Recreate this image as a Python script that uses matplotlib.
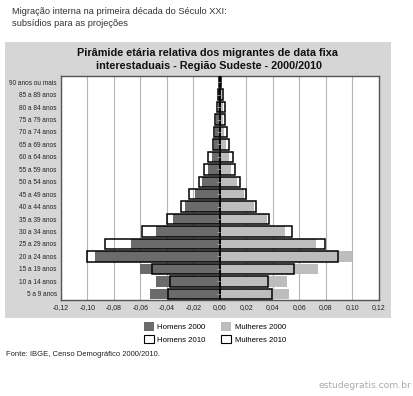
import matplotlib
matplotlib.use("Agg")
import matplotlib.pyplot as plt
from matplotlib.patches import Patch, Rectangle
import numpy as np

plt.rcParams['font.family'] = ['Liberation Sans', 'DejaVu Sans']

categories = ["5 a 9 anos", "10 a 14 anos", "15 a 19 anos", "20 a 24 anos",
              "25 a 29 anos", "30 a 34 anos", "35 a 39 anos", "40 a 44 anos",
              "45 a 49 anos", "50 a 54 anos", "55 a 59 anos", "60 a 64 anos",
              "65 a 69 anos", "70 a 74 anos", "75 a 79 anos", "80 a 84 anos",
              "85 a 89 anos", "90 anos ou mais"]
homens_2000 = [0.053, 0.048, 0.0605, 0.094, 0.0674, 0.0485, 0.0356, 0.0267, 0.0192,
               0.0134, 0.009, 0.0063, 0.0048, 0.004, 0.003, 0.0018, 0.0012, 0.0004]
homens_2010 = [0.039, 0.038, 0.0515, 0.1005, 0.087, 0.0588, 0.0399, 0.0293, 0.0232,
               0.0159, 0.0121, 0.009, 0.0053, 0.0045, 0.0035, 0.002, 0.0015, 0.0005]
mulheres_2000 = [0.0522, 0.0507, 0.0742, 0.0999, 0.0727, 0.0492, 0.0356, 0.0257, 0.0182,
                 0.0126, 0.0081, 0.0068, 0.0045, 0.0033, 0.0023, 0.0025, 0.0015, 0.0006]
mulheres_2010 = [0.0391, 0.0366, 0.0558, 0.089, 0.079, 0.0547, 0.0373, 0.0275, 0.0199,
                 0.0149, 0.0111, 0.0096, 0.0066, 0.005, 0.0035, 0.0035, 0.002, 0.001]
xticks = [-0.12, -0.10, -0.08, -0.06, -0.04, -0.02, 0.0, 0.02, 0.04, 0.06, 0.08, 0.10, 0.12]

DARK = '#6b6b6b'
LIGHT = '#bdbdbd'

fig = plt.figure(figsize=(4.14, 3.96), dpi=100)
fig.patch.set_facecolor('white')

# gray panel behind chart
fig.patches.append(Rectangle((5/414, 1-318/396), 386/414, 276/396,
                             transform=fig.transFigure, facecolor='#d6d6d6',
                             edgecolor='none', zorder=-10))

ax = fig.add_axes([61/414, 1-300/396, 318/414, 224/396])
ax.set_zorder(1)
ax.set_facecolor('white')

y = np.arange(len(categories))
h = 0.84
ax.barh(y, -np.array(homens_2000), height=h, color=DARK, zorder=2)
ax.barh(y, mulheres_2000, height=h, color=LIGHT, zorder=2)
ax.barh(y, -np.array(homens_2010), height=h, facecolor='none', edgecolor='black',
        linewidth=1.1, zorder=3)
ax.barh(y, mulheres_2010, height=h, facecolor='none', edgecolor='black',
        linewidth=1.1, zorder=3)

ax.set_xlim(-0.12, 0.12)
ax.set_ylim(-0.5, len(categories) - 0.5)
ax.set_xticks(xticks)
ax.set_xticklabels([f"{v:.2f}".replace('.', ',') for v in xticks], fontsize=5)
ax.set_yticks(y)
ax.set_yticklabels(categories, fontsize=4.7)
ax.tick_params(axis='both', length=0, pad=3, colors='#222222')
ax.grid(axis='x', color='#b5b5b5', linewidth=0.8, zorder=1)
ax.set_axisbelow(True)
for s in ax.spines.values():
    s.set_color('#555555')
    s.set_linewidth(1.0)

# small ticks on zero axis
ax.plot(np.zeros(len(y)), y, linestyle='none', marker=0, markersize=2,
        markeredgewidth=0.6, color='#aaaaaa', zorder=4)

fig.text(12/414, 1-12/396, "Migração interna na primeira década do Século XXI:",
         fontsize=6.7, color='#333333', va='center', ha='left')
fig.text(12/414, 1-23/396, "subsídios para as projeções",
         fontsize=6.7, color='#333333', va='center', ha='left')

fig.text(207/414, 1-53/396, "Pirâmide etária relativa dos migrantes de data fixa",
         fontsize=7.8, fontweight='bold', color='#111111', ha='center', va='center')
fig.text(209/414, 1-66/396, "interestaduais - Região Sudeste - 2000/2010",
         fontsize=7.8, fontweight='bold', color='#111111', ha='center', va='center')

handles = [Patch(facecolor=DARK, edgecolor='none'),
           Patch(facecolor='white', edgecolor='black', linewidth=0.8),
           Patch(facecolor=LIGHT, edgecolor='none'),
           Patch(facecolor='white', edgecolor='black', linewidth=0.8)]
labels = ["Homens 2000", "Homens 2010", "Mulheres 2000", "Mulheres 2010"]
fig.legend(handles, labels, ncol=2, loc='center', bbox_to_anchor=(215/414, 1-333/396),
           frameon=False, fontsize=5.6, handlelength=1.3, handleheight=1.3,
           columnspacing=2.0, handletextpad=0.4, labelspacing=0.45)

fig.text(6/414, 1-354/396, "Fonte: IBGE, Censo Demográfico 2000/2010.",
         fontsize=5.5, color='#222222', ha='left', va='center')

fig.text(411/414, 1-386/396, "estudegratis.com.br", fontsize=6.6, color='#aaaaaa',
         ha='right', va='center', family='DejaVu Sans')

fig.savefig("out.png", dpi=100)
